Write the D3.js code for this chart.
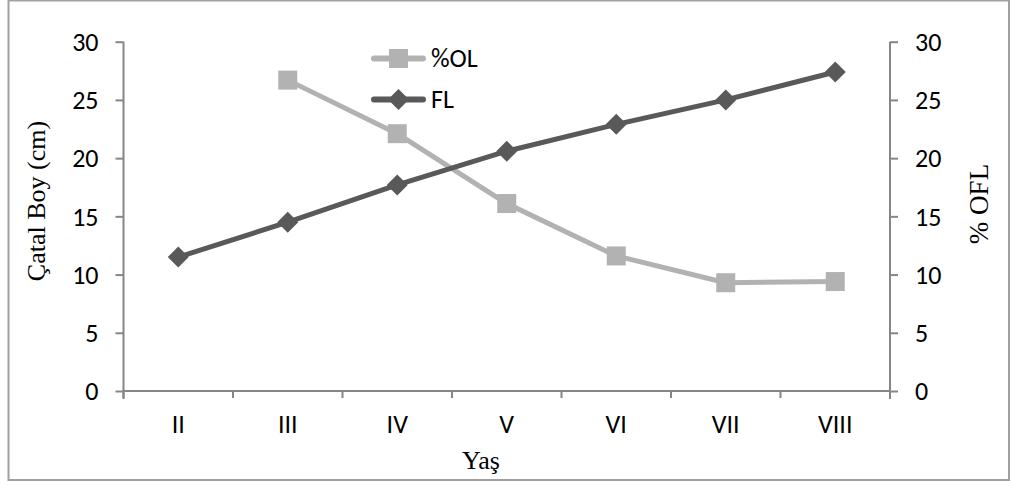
<!DOCTYPE html>
<html>
<head>
<meta charset="utf-8">
<script src="https://cdn.jsdelivr.net/npm/d3@7"></script>
<style>
  html, body { margin: 0; padding: 0; background: #fff; }
  svg { display: block; }
</style>
</head>
<body>
<svg id="chart" width="1011" height="486"></svg>
<script>
// Age classes (roman numerals) on the category axis
const ages = ["II", "III", "IV", "V", "VI", "VII", "VIII"];
// Fork length, cm (left axis)
const flValues = [11.5, 14.5, 17.7, 20.6, 22.9, 25.0, 27.4];
// Percentage of otolith length to fork length (right axis); no value for age II
const olValues = [null, 26.7, 22.1, 16.1, 11.6, 9.3, 9.4];
// Shared tick values for both value axes
const yTicks = [0, 5, 10, 15, 20, 25, 30];

const svg = d3.select("#chart");
const plot = { left: 123.5, right: 890, top: 41.7, bottom: 391 };

const axisColor = "#868686";
const flColor = "#595959";
const olColor = "#b2b2b2";
const tickFont = "Carlito, Calibri, Lato, sans-serif";
const tickSize = 26;
const titleFont = "'Liberation Serif', 'Times New Roman', serif";

// Outer frame
svg.append("rect")
  .attr("x", 8.5).attr("y", 0.5)
  .attr("width", 1000.5).attr("height", 479.5)
  .attr("fill", "#fff").attr("stroke", "#a0a0a0").attr("stroke-width", 2);

const x = d3.scaleBand().domain(ages).range([plot.left, plot.right]).padding(0);
const yL = d3.scaleLinear().domain([0, 30]).range([plot.bottom, plot.top]);
const yR = d3.scaleLinear().domain([0, 30]).range([plot.bottom, plot.top]);

// Left value axis
const leftAxis = svg.append("g")
  .attr("transform", `translate(${plot.left},0)`)
  .call(d3.axisLeft(yL).tickValues(yTicks).tickSize(8).tickPadding(17).tickSizeOuter(0));

// Right value axis
const rightAxis = svg.append("g")
  .attr("transform", `translate(${plot.right},0)`)
  .call(d3.axisRight(yR).tickValues(yTicks).tickSize(8).tickPadding(17).tickSizeOuter(0));

[leftAxis, rightAxis].forEach(g => {
  g.select(".domain").remove();
  g.selectAll(".tick line").attr("stroke", axisColor).attr("stroke-width", 2);
  g.selectAll(".tick text")
    .attr("font-family", tickFont).attr("font-size", tickSize).attr("fill", "#000")
    .attr("dy", "0.34em");
});
// Vertical axis lines, extended slightly below the baseline
[plot.left, plot.right].forEach(px => {
  svg.append("line")
    .attr("x1", px).attr("x2", px)
    .attr("y1", plot.top).attr("y2", plot.bottom + 8)
    .attr("stroke", axisColor).attr("stroke-width", 2);
});

// Category axis: baseline, boundary ticks, centred labels
const catAxis = svg.append("g").attr("transform", `translate(0,${plot.bottom})`);
catAxis.append("line")
  .attr("x1", plot.left).attr("x2", plot.right)
  .attr("stroke", axisColor).attr("stroke-width", 2);
const bounds = ages.map(a => x(a)).concat([x(ages[ages.length - 1]) + x.bandwidth()]);
catAxis.selectAll("line.tk").data(bounds).join("line")
  .attr("class", "tk")
  .attr("x1", d => d).attr("x2", d => d)
  .attr("y1", 0).attr("y2", 7)
  .attr("stroke", axisColor).attr("stroke-width", 2);
catAxis.selectAll("text").data(ages).join("text")
  .attr("x", d => x(d) + x.bandwidth() / 2)
  .attr("y", 42)
  .attr("text-anchor", "middle")
  .attr("font-family", tickFont).attr("font-size", tickSize).attr("fill", "#000")
  .text(d => d);

// Axis titles
svg.append("text")
  .attr("transform", "translate(45,201) rotate(-90)")
  .attr("text-anchor", "middle")
  .attr("font-family", titleFont).attr("font-size", 26).attr("fill", "#000")
  .text("Çatal Boy (cm)");
svg.append("text")
  .attr("transform", "translate(988,204) rotate(-90)")
  .attr("text-anchor", "middle")
  .attr("font-family", titleFont).attr("font-size", 27).attr("fill", "#000")
  .text("% OFL");
svg.append("text")
  .attr("x", 481).attr("y", 469)
  .attr("text-anchor", "middle")
  .attr("font-family", titleFont).attr("font-size", 26).attr("fill", "#000")
  .text("Yaş");

const cx = d => x(d) + x.bandwidth() / 2;

// %OL series (right axis)
const olData = ages.map((a, i) => ({ a, v: olValues[i] })).filter(d => d.v != null);
svg.append("path")
  .datum(olData)
  .attr("fill", "none").attr("stroke", olColor).attr("stroke-width", 5)
  .attr("stroke-linejoin", "round")
  .attr("d", d3.line().x(d => cx(d.a)).y(d => yR(d.v)));
const sq = 19;
svg.selectAll("rect.ol").data(olData).join("rect")
  .attr("class", "ol")
  .attr("x", d => cx(d.a) - sq / 2).attr("y", d => yR(d.v) - sq / 2)
  .attr("width", sq).attr("height", sq)
  .attr("fill", olColor);

// FL series (left axis)
const flData = ages.map((a, i) => ({ a, v: flValues[i] }));
svg.append("path")
  .datum(flData)
  .attr("fill", "none").attr("stroke", flColor).attr("stroke-width", 5)
  .attr("stroke-linejoin", "round")
  .attr("d", d3.line().x(d => cx(d.a)).y(d => yL(d.v)));
const dm = 10.5;
const diamond = (px, py) => `M${px},${py - dm}L${px + dm},${py}L${px},${py + dm}L${px - dm},${py}Z`;
svg.selectAll("path.fl").data(flData).join("path")
  .attr("class", "fl")
  .attr("d", d => diamond(cx(d.a), yL(d.v)))
  .attr("fill", flColor);

// Legend
const legend = svg.append("g");
const legItems = [
  { name: "%OL", color: olColor, shape: "square", y: 58.5 },
  { name: "FL", color: flColor, shape: "diamond", y: 99.5 }
];
legItems.forEach(it => {
  legend.append("line")
    .attr("x1", 374).attr("x2", 423)
    .attr("y1", it.y).attr("y2", it.y)
    .attr("stroke", it.color).attr("stroke-width", 6).attr("stroke-linecap", "round");
  if (it.shape === "square") {
    legend.append("rect")
      .attr("x", 398.5 - sq / 2).attr("y", it.y - sq / 2)
      .attr("width", sq).attr("height", sq).attr("fill", it.color);
  } else {
    legend.append("path").attr("d", diamond(398.5, it.y)).attr("fill", it.color);
  }
  legend.append("text")
    .attr("x", 431).attr("y", it.y)
    .attr("dy", "0.34em")
    .attr("font-family", tickFont).attr("font-size", tickSize).attr("fill", "#000")
    .text(it.name);
});
</script>
</body>
</html>
